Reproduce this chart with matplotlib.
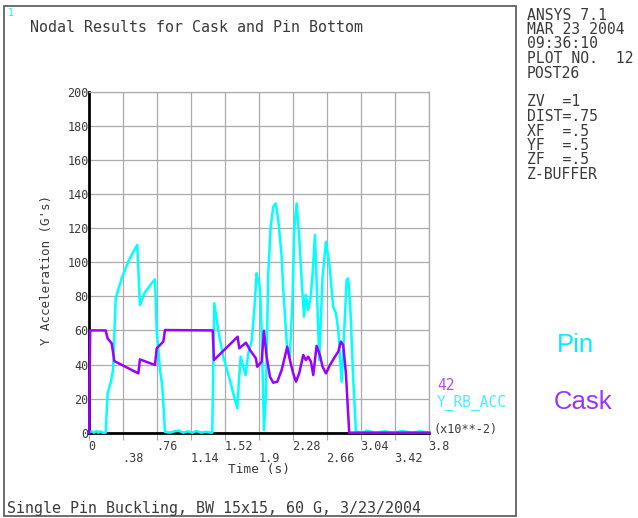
import matplotlib
matplotlib.use("Agg")
import matplotlib.pyplot as plt
import numpy as np
from matplotlib.patches import Rectangle

# ---- data (time in units of 10**-2 s, acceleration in G's) ----
pin_time = [0, 0.02, 0.05, 0.08, 0.1, 0.12, 0.15, 0.183, 0.205, 0.242, 0.265, 0.295,
            0.362, 0.436, 0.492, 0.536, 0.566, 0.615, 0.697, 0.734, 0.753, 0.79, 0.816,
            0.846, 0.9, 0.95, 1.0, 1.05, 1.1, 1.15, 1.2, 1.25, 1.3, 1.374, 1.397, 1.441,
            1.497, 1.561, 1.609, 1.654, 1.673, 1.692, 1.721, 1.747, 1.777, 1.814, 1.844,
            1.87, 1.888, 1.907, 1.926, 1.952, 1.974, 2.0, 2.027, 2.056, 2.083, 2.112,
            2.15, 2.168, 2.212, 2.242, 2.272, 2.29, 2.317, 2.346, 2.373, 2.399, 2.42,
            2.447, 2.474, 2.496, 2.522, 2.54, 2.57, 2.607, 2.645, 2.682, 2.726, 2.757,
            2.782, 2.82, 2.846, 2.876, 2.894, 2.92, 2.95, 2.98, 3.05, 3.1, 3.2, 3.3,
            3.4, 3.5, 3.6, 3.7, 3.8]
pin_acc = [0, 1, 0, 1, 0, 0.8, 0, 0, 23.1, 29.9, 36.8, 78.8,
           90.5, 100.3, 106.2, 110.1, 74.9, 81.8, 87.6, 90, 60.2, 36.8, 27,
           0.5, 0, 0.8, 1.2, 0, 0.8, 0, 1, 0, 0.5, 0, 75.9, 60.2,
           44.6, 32.8, 23.1, 14.3, 30.9, 44.6, 38.7, 33.8, 46.6, 53.4, 72,
           93.5, 89.6, 85.6, 60.2, 1.6, 23.1, 93.5, 120.8, 132.6, 134.5, 124.8,
           103.2, 83.7, 48.5, 44.6, 79.8, 118.9, 134.5, 115, 89.6, 68, 80.8,
           72, 79.8, 93.5, 116, 89.6, 42.6, 91.5, 112, 99.4, 73.9, 70,
           60.2, 29.9, 56.3, 89.6, 90.5, 70, 30.9, 0.6, 0, 1.2, 0, 0.8,
           0, 1, 0, 0.8, 0]

cask_time = [0, 0.003, 0.01, 0.183, 0.205, 0.25, 0.28, 0.548, 0.566, 0.734, 0.753,
             0.827, 0.846, 1.379, 1.393, 1.658, 1.676, 1.751, 1.796, 1.862, 1.877,
             1.926, 1.952, 1.982, 2.019, 2.056, 2.101, 2.15, 2.212, 2.242, 2.279,
             2.31, 2.346, 2.391, 2.42, 2.447, 2.477, 2.503, 2.54, 2.577, 2.607,
             2.645, 2.69, 2.745, 2.782, 2.812, 2.838, 2.868, 2.905, 3.8]
cask_acc = [0, 32, 60, 60, 55.3, 52.4, 42, 34.8, 43, 39.7, 49.5,
            53.4, 60.2, 60, 42.6, 56.3, 49.5, 52.8, 48.5, 43.6, 38.7,
            41.6, 59.8, 44.6, 32.8, 29.3, 29.9, 36.8, 50.4, 42.6, 34.8,
            29.9, 34.8, 45.6, 42.6, 44.6, 41.6, 33.8, 50.9, 45.6, 38.7,
            34.8, 39.7, 44.6, 47.5, 53.4, 51.4, 34.8, 0, 0]

x_ticks = [0, 0.38, 0.76, 1.14, 1.52, 1.9, 2.28, 2.66, 3.04, 3.42, 3.8]
x_tick_labels = ["0", ".38", ".76", "1.14", "1.52", "1.9", "2.28", "2.66", "3.04", "3.42", "3.8"]
y_ticks = [0, 20, 40, 60, 80, 100, 120, 140, 160, 180, 200]

info_lines = ["ANSYS 7.1", "MAR 23 2004", "09:36:10", "PLOT NO.  12", "POST26", "",
              "ZV  =1", "DIST=.75", "XF  =.5", "YF  =.5", "ZF  =.5", "Z-BUFFER"]

W, H = 638, 518
CYAN = "#00FFFF"
PURPLE = "#9900FF"
TXT = "#3a3a3a"
MONO = "DejaVu Sans Mono"

fig = plt.figure(figsize=(W / 100, H / 100), dpi=100)

def fx(px):
    return px / W

def fy(py):
    return 1 - py / H

# axes placement (pixels)
x0, x1 = 89.3, 429.3
y0, y1 = 432.7, 91.7
ax = fig.add_axes([fx(x0), fy(y0), fx(x1) - fx(x0), fy(y1) - fy(y0)])
ax.set_xlim(0, 3.8)
ax.set_ylim(0, 200)

ax.plot(pin_time, pin_acc, color=CYAN, lw=1.8, zorder=3, clip_on=False)
ax.plot(cask_time, cask_acc, color=PURPLE, lw=1.8, zorder=4, clip_on=False)

ax.set_xticks(x_ticks)
ax.set_yticks(y_ticks)
ax.grid(True, color="#ABABAB", lw=0.9)
ax.set_axisbelow(True)
for s in ["top", "right"]:
    ax.spines[s].set_color("#ABABAB")
    ax.spines[s].set_linewidth(0.9)
for s in ["left", "bottom"]:
    ax.spines[s].set_color("black")
    ax.spines[s].set_linewidth(2)
    ax.spines[s].set_zorder(2.5)

ax.tick_params(axis="x", length=5, color="#ABABAB", labelbottom=False)
ax.tick_params(axis="y", length=0, labelsize=8.5, pad=0.5, labelcolor=TXT)
for lab in ax.get_yticklabels():
    lab.set_fontfamily(MONO)

# alternating x tick labels
for i, (t, lab) in enumerate(zip(x_ticks, x_tick_labels)):
    py = 447 if i % 2 == 0 else 458
    px = x0 + t * (x1 - x0) / 3.8 - 1
    fig.text(fx(px), fy(py), lab, ha="left", va="center", fontsize=8.5,
             family=MONO, color=TXT)

fig.text(fx(259), fy(470), "Time (s)", ha="center", va="center", fontsize=9.3,
         family=MONO, color=TXT)
fig.text(fx(47), fy(270), "Y Acceleration (G's)", ha="center", va="center",
         rotation=90, fontsize=9, family=MONO, color=TXT)

fig.text(fx(30), fy(28), "Nodal Results for Cask and Pin Bottom", ha="left",
         va="center", fontsize=10.8, family=MONO, color=TXT)
fig.text(fx(8), fy(13), "1", ha="left", va="center", fontsize=7, family=MONO,
         color=CYAN)
fig.text(fx(7), fy(508), "Single Pin Buckling, BW 15x15, 60 G, 3/23/2004",
         ha="left", va="center", fontsize=10.8, family=MONO, color=TXT)

# legend labels near axis
fig.text(fx(437), fy(386), "42", ha="left", va="center", fontsize=10.5,
         family=MONO, color="#B44CFF")
fig.text(fx(437), fy(403), "Y_RB_ACC", ha="left", va="center", fontsize=10.5,
         family=MONO, color="#44F0FF")
fig.text(fx(433), fy(430), "(x10**-2)", ha="left", va="center", fontsize=8.5,
         family=MONO, color=TXT)

# right info panel
for i, line in enumerate(info_lines):
    fig.text(fx(527), fy(15 + i * 14.5), line, ha="left", va="center",
             fontsize=10.6, family=MONO, color=TXT)

fig.text(fx(575), fy(345), "Pin", ha="center", va="center", fontsize=18.5,
         family="Liberation Sans", color="#00EEFF")
fig.text(fx(583), fy(402), "Cask", ha="center", va="center", fontsize=18.5,
         family="Liberation Sans", color="#9933FF")

# outer frame
fig.patches.append(Rectangle((fx(4), fy(516)), fx(516) - fx(4), fy(6) - fy(516),
                             transform=fig.transFigure, fill=False,
                             edgecolor="#555555", lw=1.2))

fig.savefig("out.png", dpi=100)
